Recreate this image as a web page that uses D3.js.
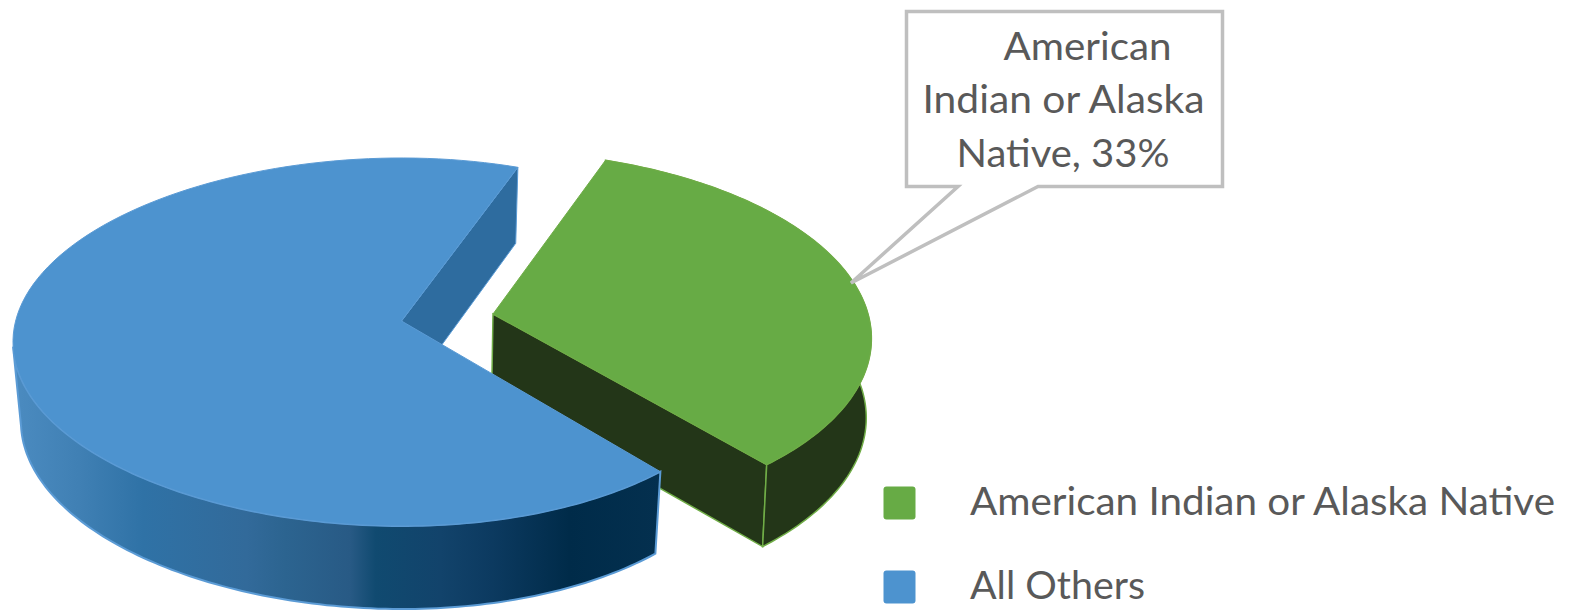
<!DOCTYPE html>
<html>
<head>
<meta charset="utf-8">
<script src="https://cdn.jsdelivr.net/npm/d3@7"></script>
<style>
  html, body { margin: 0; padding: 0; background: #fff; }
  svg { display: block; }
  text { font-family: Lato, "Open Sans", sans-serif; fill: #595959; }
</style>
</head>
<body>
<svg id="chart" width="1574" height="613"></svg>
<script>
// Share of each group, in percent
const categories = ["American Indian or Alaska Native", "All Others"];
const shares = [33, 67];
const topColors = ["#67ab45", "#4d93cf"];
const strokeColors = ["#70ad47", "#5b9bd5"];
const wallColors = ["#233618", "#2e6c9f"];

// Colour bands across the front wall of the larger slice
const wallBandOffsets = [0.01, 0.10, 0.20, 0.36, 0.42, 0.52, 0.56, 0.66, 0.74, 0.86, 1];
const wallBandColors = ["#4a8abf", "#4080b4", "#2f72a6", "#326a9a", "#2c6490", "#285a85",
                        "#104a70", "#12436b", "#0c3a60", "#002b49", "#04304f"];

// Callout wording, one entry per printed line
const calloutLines = ["American", "Indian or Alaska", "Native, 33%"];

const svg = d3.select("#chart");
const deg = Math.PI / 180;

// Each slice sits on its own tilted plane, pushed apart from the disc centre
const planes = [
  { ax: 493, ay: 314, rx: 375, ry: 181.6, tiltY: 0.114, tiltX: 0, shear: 0.04, vanishX: 360, shrink: 0.99 },
  { ax: 401.5, ay: 321, rx: 372, ry: 181.6, tiltY: 0.114, tiltX: 0.036, shear: 0, vanishX: 410, shrink: 0.98 }
];

// The bottom face is the top face pulled toward a vanishing column and moved down
const depthScale = 1.0197, depthShift = 72.7;

function project(u, v, p, bottom) {
  const wy = 1 - p.tiltY * v;
  const wx = wy + p.tiltX * u;
  const dy = p.ry * v / wy;
  const x = p.ax + p.rx * u / wx + p.shear * dy;
  const y = p.ay + dy;
  return bottom
    ? [p.vanishX + (x - p.vanishX) * p.shrink, y * depthScale + depthShift]
    : [x, y];
}

const pie = d3.pie().sort(null).startAngle(20.5 * deg).endAngle(380.5 * deg);
const slices = pie(shares).map((s, i) => ({ ...s, i, plane: planes[i] }));

const onRim = (s, a, bottom) => project(Math.sin(a), -Math.cos(a), s.plane, bottom);
const apex = (s, bottom) => project(0, 0, s.plane, bottom);
const rim = (s, a0, a1, bottom) =>
  d3.range(0, 121).map(k => onRim(s, a0 + (a1 - a0) * k / 120, bottom));

const line = d3.line();
const poly = pts => line(pts) + "Z";

// Horizontal gradient for the curved wall of the larger slice
const defs = svg.append("defs");
const grad = defs.append("linearGradient")
  .attr("id", "wallBands")
  .attr("gradientUnits", "userSpaceOnUse")
  .attr("x1", 14).attr("x2", 660).attr("y1", 0).attr("y2", 0);
grad.selectAll("stop").data(wallBandOffsets).join("stop")
  .attr("offset", d => d)
  .attr("stop-color", (d, i) => wallBandColors[i]);

const [green, blue] = slices;
const disc = svg.append("g");

// Exploded slice: walls first, top face over them
disc.append("path")
  .attr("d", poly([apex(green, false), onRim(green, green.endAngle, false),
                   onRim(green, green.endAngle, true), apex(green, true)]))
  .attr("fill", wallColors[0]).attr("stroke", strokeColors[0]).attr("stroke-width", 1.5);
disc.append("path")
  .attr("d", poly([...rim(green, green.startAngle, green.endAngle, false),
                   ...rim(green, green.endAngle, green.startAngle, true)]))
  .attr("fill", wallColors[0]).attr("stroke", strokeColors[0]).attr("stroke-width", 1.5);
disc.append("path")
  .attr("d", poly([apex(green, false), ...rim(green, green.startAngle, green.endAngle, false)]))
  .attr("fill", topColors[0]).attr("stroke", strokeColors[0]).attr("stroke-width", 1);

// Larger slice: banded outer wall up to the left-hand silhouette, flat inner wall, then the top face
const wallEnd = 262 * deg;
disc.append("path")
  .attr("d", poly([...rim(blue, blue.startAngle, wallEnd, false),
                   ...rim(blue, wallEnd, blue.startAngle, true)]))
  .attr("fill", "url(#wallBands)").attr("stroke", strokeColors[1]).attr("stroke-width", 2);
disc.append("path")
  .attr("d", poly([apex(blue, false), onRim(blue, blue.endAngle, false),
                   onRim(blue, blue.endAngle, true), apex(blue, true)]))
  .attr("fill", wallColors[1]).attr("stroke", strokeColors[1]).attr("stroke-width", 1);
disc.append("path")
  .attr("d", poly([apex(blue, false), ...rim(blue, blue.startAngle, blue.endAngle, false)]))
  .attr("fill", topColors[1]).attr("stroke", strokeColors[1]).attr("stroke-width", 1);

// Data callout with its pointer
const callout = svg.append("g");
callout.append("path")
  .attr("d", poly([[906.5, 11.5], [1222.5, 11.5], [1222.5, 186.5], [1038, 186.5],
                   [851, 283], [958, 186.5], [906.5, 186.5]]))
  .attr("fill", "#fff").attr("stroke", "#bfbfbf").attr("stroke-width", 3.5)
  .attr("stroke-linejoin", "miter");
const calloutX = [1087.5, 1063.5, 1063];
const calloutY = [60, 113, 167];
const calloutWidth = [168, 282, 213];
callout.selectAll("text").data(calloutLines).join("text")
  .attr("x", (d, i) => calloutX[i]).attr("y", (d, i) => calloutY[i])
  .attr("text-anchor", "middle").attr("font-size", 38)
  .attr("textLength", (d, i) => calloutWidth[i]).attr("lengthAdjust", "spacingAndGlyphs")
  .text(d => d);

// Legend
const legendWidth = [585, 175];
const legendY = d3.scalePoint().domain(categories).range([503, 587]);
const legend = svg.append("g");
const rows = legend.selectAll("g").data(categories).join("g")
  .attr("transform", d => `translate(0,${legendY(d)})`);
rows.append("rect")
  .attr("x", 883.5).attr("y", -16.5).attr("width", 32).attr("height", 33).attr("rx", 3)
  .attr("fill", (d, i) => topColors[i]);
rows.append("text")
  .attr("x", 970).attr("y", 12).attr("font-size", 38)
  .attr("textLength", (d, i) => legendWidth[i]).attr("lengthAdjust", "spacingAndGlyphs")
  .text(d => d);
</script>
</body>
</html>
